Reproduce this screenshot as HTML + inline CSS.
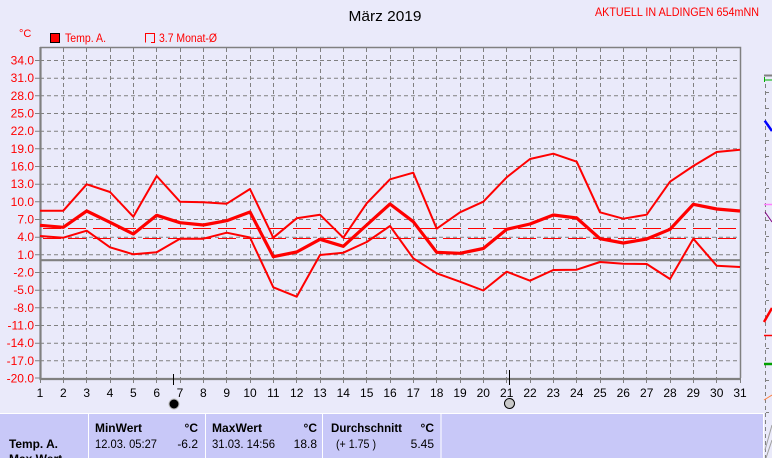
<!DOCTYPE html>
<html><head><meta charset="utf-8"><style>
html,body{margin:0;padding:0;background:#eaeafa;}
svg{display:block;}
text{font-family:"Liberation Sans",sans-serif;}
</style></head><body>
<svg width="772" height="458" viewBox="0 0 772 458" xmlns="http://www.w3.org/2000/svg">
<rect x="0" y="0" width="772" height="458" fill="#eaeafa"/>
<!-- title -->
<text x="385" y="21" font-size="15" text-anchor="middle" fill="#000" textLength="73" lengthAdjust="spacingAndGlyphs">März 2019</text>
<text x="595" y="16" font-size="12" fill="#ff0000" textLength="164" lengthAdjust="spacingAndGlyphs">AKTUELL IN ALDINGEN 654mNN</text>
<text x="19" y="37" font-size="11" fill="#ff0000">°C</text>
<rect x="50.5" y="33.5" width="9" height="9" fill="#ff0000" stroke="#000" stroke-width="1"/>
<text x="65" y="42" font-size="12" fill="#ff0000" textLength="41" lengthAdjust="spacingAndGlyphs">Temp. A.</text>
<path d="M145.5 42.5 V33.5 H154.5 V42.5 H151" fill="none" stroke="#ff0000" stroke-width="1"/>
<text x="159" y="42" font-size="12" fill="#ff0000" textLength="58" lengthAdjust="spacingAndGlyphs">3.7 Monat-Ø</text>

<!-- grid -->
<g stroke="#808080" stroke-width="1" stroke-dasharray="4,3" fill="none">
<path d="M40 60.5H740M40 78.2H740M40 95.8H740M40 113.5H740M40 131.2H740M40 148.8H740M40 166.5H740M40 184.2H740M40 201.8H740M40 219.5H740M40 237.2H740M40 254.8H740M40 272.5H740M40 290.2H740M40 307.8H740M40 325.5H740M40 343.2H740M40 360.8H740"/>
<path d="M63.5 48V378M86.5 48V378M110.5 48V378M133.5 48V378M156.5 48V378M180.5 48V378M203.5 48V378M226.5 48V378M250.5 48V378M273.5 48V378M296.5 48V378M320.5 48V378M343.5 48V378M366.5 48V378M390.5 48V378M413.5 48V378M436.5 48V378M460.5 48V378M483.5 48V378M506.5 48V378M530.5 48V378M553.5 48V378M576.5 48V378M600.5 48V378M623.5 48V378M646.5 48V378M670.5 48V378M693.5 48V378M716.5 48V378"/>
</g>
<!-- y ticks -->
<g stroke="#808080" stroke-width="1">
<path d="M35 60.5H40M35 78.2H40M35 95.8H40M35 113.5H40M35 131.2H40M35 148.8H40M35 166.5H40M35 184.2H40M35 201.8H40M35 219.5H40M35 237.2H40M35 254.8H40M35 272.5H40M35 290.2H40M35 307.8H40M35 325.5H40M35 343.2H40M35 360.8H40M35 378H40"/>
<path d="M40.5 378V383M63.5 378V383M86.5 378V383M110.5 378V383M133.5 378V383M156.5 378V383M180.5 378V383M203.5 378V383M226.5 378V383M250.5 378V383M273.5 378V383M296.5 378V383M320.5 378V383M343.5 378V383M366.5 378V383M390.5 378V383M413.5 378V383M436.5 378V383M460.5 378V383M483.5 378V383M506.5 378V383M530.5 378V383M553.5 378V383M576.5 378V383M600.5 378V383M623.5 378V383M646.5 378V383M670.5 378V383M693.5 378V383M716.5 378V383M740.5 378V383"/>
</g>
<!-- frame -->
<path d="M40 47.5H740.5V378" stroke="#808080" stroke-width="1.5" fill="none"/>
<path d="M40.5 47V379H741" stroke="#808080" stroke-width="2.2" fill="none"/>
<path d="M40 260.2H740" stroke="#808080" stroke-width="2.2"/>

<!-- y labels -->
<g font-size="12" fill="#ff0000" text-anchor="end">
<text x="34" y="64.5">34.0</text><text x="34" y="82.2">31.0</text><text x="34" y="99.8">28.0</text><text x="34" y="117.5">25.0</text><text x="34" y="135.2">22.0</text><text x="34" y="152.8">19.0</text><text x="34" y="170.5">16.0</text><text x="34" y="188.2">13.0</text><text x="34" y="205.8">10.0</text><text x="34" y="223.5">7.0</text><text x="34" y="241.2">4.0</text><text x="34" y="258.8">1.0</text><text x="34" y="276.5">-2.0</text><text x="34" y="294.2">-5.0</text><text x="34" y="311.8">-8.0</text><text x="34" y="329.5">-11.0</text><text x="34" y="347.2">-14.0</text><text x="34" y="364.8">-17.0</text><text x="34" y="382.5">-20.0</text>
</g>
<!-- x labels -->
<g font-size="12" fill="#000" text-anchor="middle">
<text x="40" y="397">1</text><text x="63.3" y="397">2</text><text x="86.7" y="397">3</text><text x="110" y="397">4</text><text x="133.3" y="397">5</text><text x="156.7" y="397">6</text><text x="180" y="397">7</text><text x="203.3" y="397">8</text><text x="226.7" y="397">9</text><text x="250" y="397">10</text><text x="273.3" y="397">11</text><text x="296.7" y="397">12</text><text x="320" y="397">13</text><text x="343.3" y="397">14</text><text x="366.7" y="397">15</text><text x="390" y="397">16</text><text x="413.3" y="397">17</text><text x="436.7" y="397">18</text><text x="460" y="397">19</text><text x="483.3" y="397">20</text><text x="506.7" y="397">21</text><text x="530" y="397">22</text><text x="553.3" y="397">23</text><text x="576.7" y="397">24</text><text x="600" y="397">25</text><text x="623.3" y="397">26</text><text x="646.7" y="397">27</text><text x="670" y="397">28</text><text x="693.3" y="397">29</text><text x="716.7" y="397">30</text><text x="740" y="397">31</text>
</g>
<!-- markers -->
<path d="M173.5 374V385M509.5 370V385" stroke="#000" stroke-width="1"/>
<circle cx="174" cy="404" r="5" fill="#000" stroke="#bbb" stroke-width="1"/>
<circle cx="509.5" cy="403.5" r="5" fill="#c8c8c8" stroke="#000" stroke-width="1"/>

<!-- dashed reference lines -->
<g stroke="#ff0000" stroke-width="1" stroke-dasharray="18,7" fill="none">
<path d="M43 228.5H740"/>
<path d="M43 238.5H740"/>
</g>
<!-- series -->
<g fill="none" stroke="#ff0000" stroke-linejoin="round">
<polyline stroke-width="2" points="40,210.7 63.3,210.7 86.7,184.3 110,192 133.3,216.7 156.7,176 180,201.7 203.3,202.3 226.7,203.7 250,189 273.3,237.7 296.7,218.3 320,214.7 343.3,237.7 366.7,203.3 390,179.3 413.3,172.7 436.7,228.7 460,212.3 483.3,201.7 506.7,177.3 530,159 553.3,153.7 576.7,161.7 600,212.3 623.3,218.7 646.7,214.7 670,181.7 693.3,166 716.7,152 740,149.7"/>
<polyline stroke-width="3.2" points="40,225.3 63.3,227.3 86.7,211 110,222.3 133.3,234 156.7,215.3 180,222.7 203.3,225 226.7,220.7 250,212 273.3,256.7 296.7,252 320,239.3 343.3,246.3 366.7,225 390,204 413.3,221.7 436.7,252.3 460,253.3 483.3,248.5 506.7,229.3 530,224 553.3,215 576.7,218 600,238.7 623.3,243 646.7,239 670,229.3 693.3,204.3 716.7,209 740,211"/>
<polyline stroke-width="2" points="40,236 63.3,237.7 86.7,230.7 110,247.3 133.3,254.3 156.7,252.3 180,238.7 203.3,238.7 226.7,232.7 250,237.5 273.3,287.3 296.7,296.7 320,255 343.3,252.7 366.7,242 390,226 413.3,258.3 436.7,273.3 460,281.7 483.3,290.5 506.7,271.7 530,280.7 553.3,270 576.7,269.7 600,262 623.3,263.7 646.7,264 670,279 693.3,238.7 716.7,265.7 740,267"/>
</g>

<!-- right sliver chart -->
<g>
<path d="M764 75.5H772" stroke="#808080" stroke-width="2"/>
<path d="M764.5 77V82M764 80H772" stroke="#00b000" stroke-width="1"/>
<path d="M765.5 84V458" stroke="#808080" stroke-width="1" stroke-dasharray="4,3"/>
<path d="M766 92.5H772M766 108.5H772M766 124.5H772M766 140.5H772M766 156.5H772M766 172.5H772M766 188.5H772M766 220.5H772M766 236.5H772M766 252.5H772M766 268.5H772M766 284.5H772M766 300.5H772M766 348.5H772M766 380.5H772M766 412.5H772" stroke="#808080" stroke-width="1" stroke-dasharray="3,3"/>
<path d="M764.7 120.7L772 131" stroke="#0000ff" stroke-width="2.5"/>
<path d="M764 204.5H772" stroke="#ff80ff" stroke-width="1.5"/>
<path d="M765 212L772 222" stroke="#800080" stroke-width="1"/>
<path d="M764 322L772 308" stroke="#ff0000" stroke-width="2.5"/>
<path d="M764 335.5H772" stroke="#ff0000" stroke-width="1.5"/>
<path d="M764 364H772" stroke="#00a000" stroke-width="2.5"/>
<path d="M764 400L772 395" stroke="#ff8040" stroke-width="1"/>
<path d="M765 450L772 425M766 458L772 440" stroke="#a0a0a0" stroke-width="1"/>
</g>

<!-- bottom panel -->
<rect x="0" y="413" width="763" height="45" fill="#c8c8f8"/>
<path d="M0 413.5H763.5V458" stroke="#ffffff" stroke-width="1" fill="none"/>
<path d="M88.5 414V458M205.5 414V458M322.5 414V458M441 414V458" stroke="#ffffff" stroke-width="1"/>
<g font-size="12" fill="#000">
<text x="9" y="448" font-weight="bold" textLength="49" lengthAdjust="spacingAndGlyphs">Temp. A.</text>
<text x="9" y="463" font-weight="bold">Max.Wert</text>
<text x="95" y="432" font-weight="bold" textLength="47" lengthAdjust="spacingAndGlyphs">MinWert</text>
<text x="198" y="432" font-weight="bold" text-anchor="end">°C</text>
<text x="95" y="448" textLength="62" lengthAdjust="spacingAndGlyphs">12.03.  05:27</text>
<text x="198" y="448" text-anchor="end">-6.2</text>
<text x="212" y="432" font-weight="bold" textLength="50" lengthAdjust="spacingAndGlyphs">MaxWert</text>
<text x="317" y="432" font-weight="bold" text-anchor="end">°C</text>
<text x="212" y="448" textLength="63" lengthAdjust="spacingAndGlyphs">31.03.  14:56</text>
<text x="317" y="448" text-anchor="end">18.8</text>
<text x="331" y="432" font-weight="bold" textLength="71" lengthAdjust="spacingAndGlyphs">Durchschnitt</text>
<text x="434" y="432" font-weight="bold" text-anchor="end">°C</text>
<text x="336" y="448" textLength="40" lengthAdjust="spacingAndGlyphs">(+ 1.75 )</text>
<text x="434" y="448" text-anchor="end">5.45</text>
</g>
</svg>
</body></html>
